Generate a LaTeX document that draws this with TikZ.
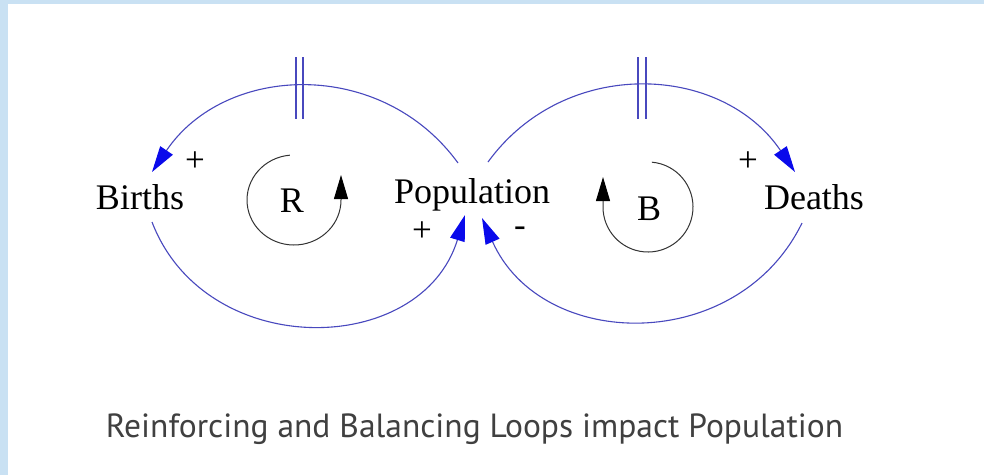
\documentclass[tikz,border=0pt]{standalone}
\usepackage{fontspec}
\setmainfont{Liberation Serif}
\newfontfamily\capfont{PT Sans}
\usetikzlibrary{arrows.meta}
\definecolor{framebg}{RGB}{201,225,243}
\definecolor{linkblue}{RGB}{72,72,190}
\definecolor{tipblue}{RGB}{10,10,235}
\definecolor{captext}{RGB}{64,64,64}

\begin{document}
\begin{tikzpicture}[x=1pt, y=1pt,
    var/.style={font=\fontsize{36}{40}\selectfont, anchor=base, inner sep=0pt},
    sign/.style={font=\fontsize{35}{38}\selectfont, inner sep=0pt},
    link/.style={linkblue, line width=1.1pt, -{Triangle[length=26pt, width=15pt, color=tipblue]}},
    delay/.style={linkblue, line width=1.1pt},
    loopline/.style={black!80, line width=1pt, -{Triangle[length=24pt, width=14pt, color=black]}}]
    \fill[framebg] (0,0) rectangle (984,-475);
    \fill[white] (8,-4) rectangle (984,-475);
    \useasboundingbox (0,0) rectangle (984,-475);

    \node[var] (births) at (140,-209) {Births};
    \node[var] (pop) at (472,-203) {Population};
    \node[var] (deaths) at (814,-209) {Deaths};
    \node[var] (r) at (292,-212) {R};
    \node[var] (b) at (649,-220) {B};

    \node[sign] (s1) at (195,-162) {+};
    \node[sign] (s2) at (422,-232) {+};
    \node[sign] (s3) at (520,-232) {-};
    \node[sign] (s4) at (748,-162) {+};

    % ends of the causal links
    \coordinate (popTL) at (458,-163);
    \coordinate (birthsT) at (152,-172);
    \coordinate (birthsB) at (152,-222);
    \coordinate (popBL) at (465,-215);
    \coordinate (popTR) at (488,-162);
    \coordinate (deathsT) at (795,-172);
    \coordinate (deathsB) at (802,-223);
    \coordinate (popBR) at (482,-218);

    \draw[link] (popTL) to[out=126, in=56, looseness=1.09] (birthsT);
    \draw[link] (birthsB) to[out=-69, in=-107, looseness=1.22] (popBL);
    \draw[link] (popTR) to[out=54, in=124, looseness=1.09] (deathsT);
    \draw[link] (deathsB) to[out=244, in=294, looseness=1.17] (popBR);

    \draw[delay] (296,-57) -- (296,-119) (303,-57) -- (303,-119);
    \draw[delay] (638,-57) -- (638,-119) (646,-57) -- (646,-119);

    % loop direction markers
    \draw[loopline] (294,-200) ++(95:47 and 45)
        arc[start angle=95, end angle=360, x radius=47, y radius=45] -- ++(0,25);
    \draw[loopline] (648,-207) ++(85:45 and 45)
        arc[start angle=85, end angle=-180, x radius=45, y radius=45] -- ++(0,30);

    \node[font=\capfont\fontsize{33.5}{40}\selectfont, text=captext, anchor=base, inner sep=0pt]
        (caption) at (474.5,-437) {Reinforcing and Balancing Loops impact Population};
\end{tikzpicture}
\end{document}
